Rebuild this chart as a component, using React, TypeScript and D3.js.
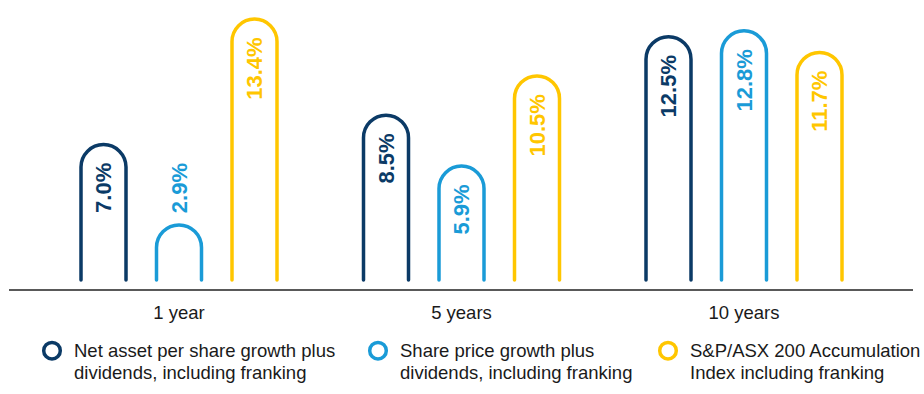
import React from "react";
import * as d3 from "d3";

const periods = ["1 year", "5 years", "10 years"];
const seriesNames = [
  "Net asset per share growth plus dividends, including franking",
  "Share price growth plus dividends, including franking",
  "S&P/ASX 200 Accumulation Index including franking",
];
const legendLines = [
  ["Net asset per share growth plus", "dividends, including franking"],
  ["Share price growth plus", "dividends, including franking"],
  ["S&P/ASX 200 Accumulation", "Index including franking"],
];
const seriesColors = ["#0b3a66", "#1a9bd7", "#ffc600"];
const netAsset = [7.0, 8.5, 12.5];
const sharePrice = [2.9, 5.9, 12.8];
const asx200 = [13.4, 10.5, 11.7];
const seriesValues = [netAsset, sharePrice, asx200];

const W = 924;
const H = 394;
const FONT = "'Liberation Sans', Arial, Helvetica, sans-serif";

export default function App() {
  const x0 = d3.scaleBand<string>().domain(periods).range([37.75, 885.25]).padding(0);
  const x1 = d3.scaleBand<number>().domain([0, 1, 2]).range([-113.25, 113.25]).padding(0);
  const y = d3.scaleLinear().domain([0, 14]).range([280, 280 - 14 * 19.6]);
  const barW = 45;
  const sw = 3.5;
  const r = barW / 2;
  const fontLabel = 22;

  const bars: any[] = [];
  periods.forEach((p, gi) => {
    seriesValues.forEach((vals, si) => {
      const v = vals[gi];
      const cx = (x0(p) as number) + x0.bandwidth() / 2 + (x1(si) as number) + x1.bandwidth() / 2;
      const top = y(v) + sw / 2;
      const base = y(0);
      const path = `M${cx - r},${base} V${top + r} A${r},${r} 0 0 1 ${cx + r},${top + r} V${base}`;
      const label = `${v.toFixed(1)}%`;
      const inside = base - top > 80;
      const ty = inside ? y(v) + 20 : y(v) - 10;
      bars.push(
        <g key={`${gi}-${si}`}>
          <path d={path} fill="none" stroke={seriesColors[si]} strokeWidth={sw} strokeLinecap="round" />
          <text
            transform={`translate(${cx + 7.8},${ty}) rotate(-90)`}
            textAnchor={inside ? "end" : "start"}
            fill={seriesColors[si]}
            fontWeight="bold"
            fontSize={fontLabel}
            style={{ fontFamily: FONT }}
          >
            {label}
          </text>
        </g>
      );
    });
  });

  const legendX = [52, 378, 668];

  return (
    <svg
      width={W}
      height={H}
      style={{ position: "absolute", left: 0, top: 0, fontFamily: FONT }}
    >
      <rect width={W} height={H} fill="#ffffff" />
      {bars}
      <line x1={9} x2={913} y1={290} y2={290} stroke="#222" strokeWidth={1.5} />
      {periods.map((p) => (
        <text
          key={p}
          x={(x0(p) as number) + x0.bandwidth() / 2}
          y={319}
          textAnchor="middle"
          fontSize={18.5}
          fill="#1a1a1a"
        >
          {p}
        </text>
      ))}
      {seriesNames.map((n, i) => (
        <g key={n}>
          <circle cx={legendX[i]} cy={350.7} r={8.3} fill="none" stroke={seriesColors[i]} strokeWidth={3.5} />
          <text x={legendX[i] + 22} y={357} fontSize={18.5} fill="#1a1a1a">
            <tspan x={legendX[i] + 22}>{legendLines[i][0]}</tspan>
            <tspan x={legendX[i] + 22} y={379}>{legendLines[i][1]}</tspan>
          </text>
        </g>
      ))}
    </svg>
  );
}
